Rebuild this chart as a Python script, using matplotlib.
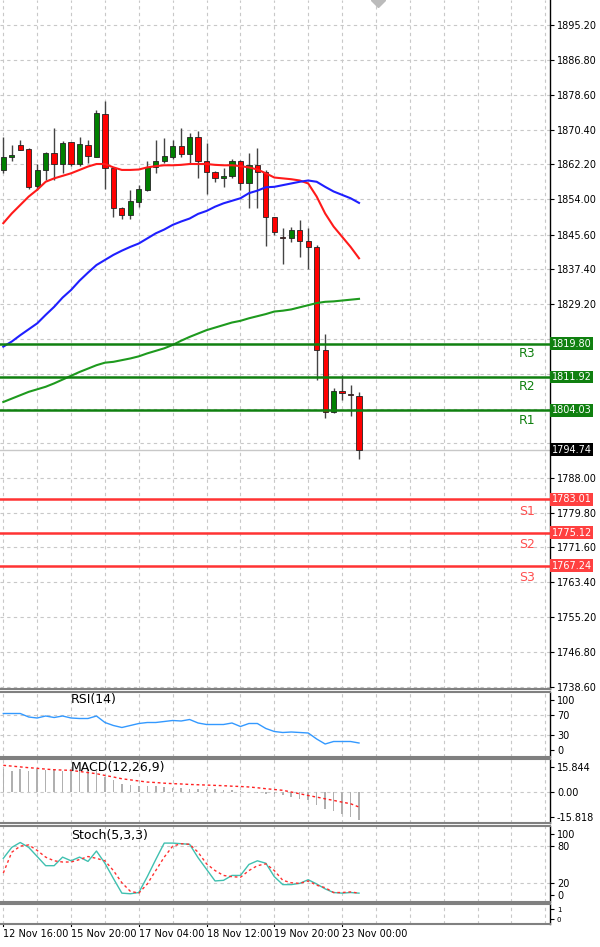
import matplotlib
matplotlib.use("Agg")
import matplotlib.pyplot as plt
import numpy as np

opens  = [1860.9,1864.0,1866.8,1865.8,1857.0,1860.9,1864.8,1862.3,1867.4,1862.3,1866.8,1864.0,1874.1,1861.3,1851.8,1850.2,1853.4,1856.2,1861.7,1863.0,1864.0,1866.6,1864.7,1868.8,1862.9,1860.3,1859.1,1859.5,1862.9,1857.7,1862.0,1860.5,1849.7,1844.9,1844.7,1846.8,1844.2,1842.7,1818.4,1803.7,1808.7,1807.8,1807.4]
closes = [1864.0,1864.5,1865.6,1856.8,1861.0,1864.8,1862.3,1867.2,1862.3,1867.0,1864.3,1874.3,1861.3,1851.8,1850.2,1853.6,1856.3,1861.7,1863.0,1864.3,1866.6,1864.7,1868.8,1862.9,1860.3,1858.9,1859.5,1863.0,1857.7,1862.0,1860.5,1849.7,1846.3,1844.7,1846.8,1844.2,1842.7,1818.4,1803.7,1808.7,1808.2,1807.6,1794.74]
highs  = [1868.8,1866.8,1868.0,1866.2,1862.3,1865.2,1870.8,1867.8,1867.6,1868.8,1868.0,1875.1,1877.3,1861.7,1852.2,1856.2,1857.3,1863.1,1868.0,1868.4,1868.0,1870.8,1869.7,1870.0,1867.2,1860.6,1861.3,1863.4,1863.3,1865.0,1866.0,1860.9,1849.8,1847.1,1847.3,1849.0,1847.1,1843.1,1822.2,1809.4,1812.4,1810.0,1808.4]
lows   = [1860.1,1862.9,1865.5,1856.3,1856.2,1858.5,1858.5,1860.1,1861.8,1861.8,1862.5,1864.0,1856.5,1849.7,1849.4,1849.4,1852.2,1855.8,1860.2,1862.5,1863.6,1864.0,1862.6,1858.9,1855.2,1858.1,1856.9,1858.9,1856.2,1851.8,1851.8,1842.9,1845.5,1838.6,1843.9,1840.2,1837.4,1811.3,1802.1,1803.3,1806.4,1802.7,1792.6]
ma_fast = [1848.3,1850.6,1852.6,1854.6,1856.2,1858.1,1858.9,1859.5,1860.1,1860.9,1861.7,1862.3,1862.3,1861.5,1860.9,1860.9,1861.0,1861.5,1861.8,1862.0,1862.0,1862.1,1862.3,1862.3,1862.3,1862.1,1862.0,1862.0,1861.8,1861.5,1861.0,1860.1,1859.1,1858.9,1858.7,1858.4,1857.7,1854.6,1850.6,1847.5,1845.1,1842.7,1840.0]
ma_mid = [1819.1,1820.3,1821.8,1823.2,1824.6,1826.6,1828.5,1830.7,1832.5,1834.7,1836.6,1838.4,1839.6,1840.8,1841.8,1842.7,1843.5,1844.7,1845.9,1846.8,1847.9,1848.7,1849.4,1850.5,1851.2,1852.2,1853.0,1853.6,1854.2,1855.4,1856.0,1856.8,1856.9,1857.3,1857.7,1858.1,1858.4,1858.1,1856.9,1855.8,1855.0,1854.2,1853.1]
ma_slow = [1806.0,1806.8,1807.6,1808.4,1809.0,1809.6,1810.4,1811.3,1812.2,1813.1,1813.9,1814.7,1815.3,1815.5,1815.9,1816.3,1816.8,1817.5,1818.1,1818.7,1819.5,1820.5,1821.4,1822.2,1823.0,1823.6,1824.2,1824.8,1825.2,1825.8,1826.3,1826.8,1827.4,1827.6,1827.9,1828.4,1828.9,1829.4,1829.7,1829.8,1830.0,1830.2,1830.4]
rsi = [73,73,73,66,64,68,65,68,64,63,63,68,55,49,45,49,53,55,55,57,59,58,61,54,51,51,51,54,47,53,53,43,37,35,36,35,34,22,12,17,17,17,14]
macd_hist = [14.8,13.5,14.8,13.0,14.8,14.0,14.8,13.5,14.8,14.0,14.8,13.5,9.5,7.4,5.3,4.2,3.6,3.6,3.6,3.2,2.7,2.7,2.1,2.1,2.1,2.1,1.5,1.1,0.6,0.0,-0.4,-1.0,-1.5,-2.0,-3.0,-4.2,-5.3,-8.4,-10.5,-12.2,-13.7,-15.8,-17.5]
macd_sig = [16.9,16.4,15.9,15.4,15.0,14.5,14.1,13.9,13.7,13.0,12.3,11.6,10.5,9.5,8.4,7.7,7.0,6.3,6.0,5.6,5.3,5.1,4.8,4.6,4.4,4.2,4.0,3.7,3.5,3.2,2.7,2.1,1.6,1.1,0.0,-1.1,-2.2,-3.2,-4.3,-5.3,-6.4,-7.4,-9.5]
stoch_k = [60,78,86,78,63,48,48,62,56,62,55,72,52,27,3,2,4,30,58,85,85,84,83,61,42,23,24,32,32,50,56,52,30,17,17,19,25,18,10,4,3,4,3]
stoch_d = [36,70,80,82,73,62,56,54,54,58,63,60,56,40,20,6,3,18,40,62,80,84,83,70,51,40,32,30,29,40,48,51,40,24,20,19,23,16,12,4,4,5,3]
price_ticks = [1895.20,1886.80,1878.60,1870.40,1862.20,1854.00,1845.60,1837.40,1829.20,1788.00,1779.80,1771.60,1763.40,1755.20,1746.80,1738.60]
grid_prices = price_ticks + [1821.0,1812.6,1804.4,1796.2]
res_levels = [1819.80,1811.92,1804.03]
res_names = ["R3","R2","R1"]
sup_levels = [1783.01,1775.12,1767.24]
sup_names = ["S1","S2","S3"]
last_price = 1794.74
date_pos = [0,8,16,24,32,40]
date_labels = ["12 Nov 16:00","15 Nov 20:00","17 Nov 04:00","18 Nov 12:00","19 Nov 20:00","23 Nov 00:00"]

W, H = 600, 947
fig = plt.figure(figsize=(6, 9.47), dpi=100)
fig.patch.set_facecolor("white")
XL = (-0.39, 64.55)
def ax_at(top, bot):
    return fig.add_axes([0, 1 - bot / H, 550 / W, (bot - top) / H])

grid_kw = dict(color="#c8c8c8", ls=(0, (3, 3)), lw=0.8, zorder=0)
vgrid = np.arange(0, 65, 4)

def style(ax):
    ax.set_xlim(*XL)
    ax.yaxis.tick_right()
    ax.tick_params(axis="y", labelsize=7, length=3, pad=2, colors="black")
    ax.set_xticks([])
    for s in ax.spines.values():
        s.set_color("#808080"); s.set_linewidth(1.5)
    ax.spines["left"].set_visible(False)
    ax.spines["right"].set_color("black"); ax.spines["right"].set_linewidth(1)
    for v in vgrid:
        ax.axvline(v, **grid_kw)

# main
ax = ax_at(0, 689)
style(ax)
ax.spines["top"].set_visible(False)
ax.set_ylim(1738.1, 1901.1)
for g in grid_prices:
    ax.axhline(g, **grid_kw)
ax.set_yticks(price_ticks)
ax.set_yticklabels([f"{t:.2f}" for t in price_ticks])
x = np.arange(len(opens))
for i in x:
    o, c, h, l = opens[i], closes[i], highs[i], lows[i]
    ax.vlines(i, l, h, color="#444444", lw=1, zorder=3)
    col = "#008000" if c >= o else "#ff0000"
    lo, hi = min(o, c), max(o, c)
    ax.bar(i, max(hi - lo, 0.25), bottom=lo, width=0.62, color=col, edgecolor="#222222", lw=0.6, zorder=4)
ax.plot(x, ma_fast, color="#ff1a1a", lw=1.5, zorder=5)
ax.plot(x, ma_mid, color="#1f1fff", lw=1.5, zorder=5)
ax.plot(x, ma_slow, color="#1e9a1e", lw=1.5, zorder=5)
ax.axhline(last_price, color="#c8c8c8", lw=1, zorder=2)
for lv, nm in zip(res_levels, res_names):
    ax.axhline(lv, color="#108010", lw=1.8, zorder=6)
    ax.text(61.8, lv - 2.3, nm, color="#108010", fontsize=9, ha="center", va="center")
    ax.text(1.003, lv, f"{lv:.2f}", transform=ax.get_yaxis_transform(), fontsize=7, color="white",
            va="center", ha="left", bbox=dict(boxstyle="square,pad=0.15", fc="#108010", ec="none"), zorder=10, clip_on=False)
for lv, nm in zip(sup_levels, sup_names):
    ax.axhline(lv, color="#ff3333", lw=1.8, zorder=6)
    ax.text(61.8, lv - 2.8, nm, color="#ff5050", fontsize=9, ha="center", va="center")
    ax.text(1.003, lv, f"{lv:.2f}", transform=ax.get_yaxis_transform(), fontsize=7, color="white",
            va="center", ha="left", bbox=dict(boxstyle="square,pad=0.15", fc="#ff4040", ec="none"), zorder=10, clip_on=False)
ax.text(1.003, last_price, f"{last_price:.2f}", transform=ax.get_yaxis_transform(), fontsize=7, color="white",
        va="center", ha="left", bbox=dict(boxstyle="square,pad=0.15", fc="black", ec="none"), zorder=10, clip_on=False)
ax.plot([44.2], [1901.1], marker="D", color="#bbbbbb", ms=7, clip_on=True)

# RSI
a1 = ax_at(692, 757); style(a1)
a1.set_ylim(-14, 116)
for g in [30, 70]:
    a1.axhline(g, **grid_kw)
a1.set_yticks([0, 30, 70, 100])
a1.plot(x, rsi, color="#3399ff", lw=1)
a1.text(8, 100, "RSI(14)", fontsize=9, va="center")

# MACD
a2 = ax_at(759, 823); style(a2)
a2.set_ylim(-19.6, 20.9)
a2.axhline(0, **grid_kw)
a2.set_yticks([15.844, 0, -15.818]); a2.set_yticklabels(["15.844", "0.00", "-15.818"])
a2.bar(x, macd_hist, width=0.18, color="#b0b0b0")
a2.plot(x, macd_sig, color="#ff2020", lw=1, ls=(0, (2, 2)))
a2.text(8, 15.5, "MACD(12,26,9)", fontsize=9, va="center")

# Stoch
a3 = ax_at(826, 902); style(a3)
a3.set_ylim(-11.5, 113)
for g in [20, 80]:
    a3.axhline(g, **grid_kw)
a3.set_yticks([0, 20, 80, 100])
a3.plot(x, stoch_k, color="#40c0b0", lw=1)
a3.plot(x, stoch_d, color="#ff3030", lw=1, ls=(0, (2, 2)))
a3.text(8, 97, "Stoch(5,3,3)", fontsize=9, va="center")

# bottom empty panel
a4 = ax_at(904, 924); style(a4)
a4.set_ylim(-0.5, 1.5)
a4.set_yticks([0, 1]); a4.tick_params(axis="y", labelsize=5)
for p, lab in zip(date_pos, date_labels):
    a4.text(p, -0.25, lab, transform=a4.get_xaxis_transform(), fontsize=7, ha="left", va="top", clip_on=False)
    a4.plot([p, p], [0, -0.12], transform=a4.get_xaxis_transform(), color="black", lw=0.8, clip_on=False)

fig.savefig("out.png", dpi=100, facecolor="white")
